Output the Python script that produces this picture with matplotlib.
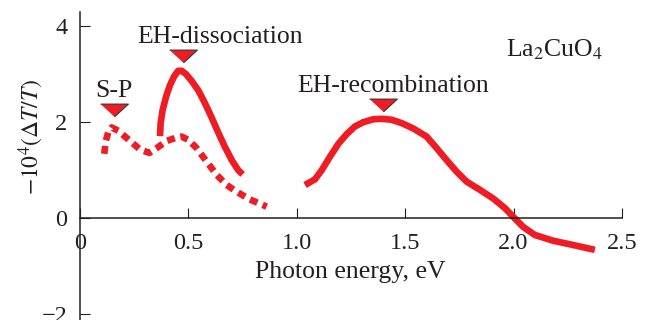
"""Photoinduced absorption spectrum of La2CuO4."""

import matplotlib
matplotlib.use("Agg")
import matplotlib.pyplot as plt

# EH-dissociation (solid)
diss_x = [0.369, 0.372, 0.381, 0.397, 0.415, 0.435, 0.453, 0.469, 0.489, 0.515,
          0.546, 0.577, 0.607, 0.638, 0.669, 0.700, 0.730, 0.750]
diss_y = [1.70, 1.97, 2.24, 2.52, 2.76, 2.95, 3.06, 3.06, 2.99, 2.85,
          2.65, 2.38, 2.09, 1.77, 1.47, 1.20, 0.99, 0.90]

# dotted curve
dot_x = [0.112, 0.118, 0.131, 0.146, 0.177, 0.223, 0.277, 0.320, 0.354, 0.400,
         0.446, 0.469, 0.500, 0.538, 0.584, 0.631, 0.677, 0.723, 0.784, 0.861]
dot_y = [1.33, 1.58, 1.79, 1.88, 1.81, 1.63, 1.42, 1.35, 1.45, 1.60,
         1.67, 1.69, 1.62, 1.45, 1.17, 0.89, 0.68, 0.54, 0.38, 0.23]

# EH-recombination (solid)
rec_x = [1.038, 1.084, 1.115, 1.153, 1.192, 1.230, 1.268, 1.307, 1.353, 1.392,
         1.438, 1.484, 1.537, 1.599, 1.645, 1.691, 1.737, 1.784, 1.845, 1.906,
         1.960, 1.998, 2.044, 2.098, 2.183, 2.276, 2.375]
rec_y = [0.68, 0.80, 0.99, 1.27, 1.54, 1.74, 1.90, 1.99, 2.05, 2.06,
         2.04, 1.97, 1.86, 1.69, 1.45, 1.20, 0.96, 0.75, 0.58, 0.40,
         0.20, 0.02, -0.19, -0.36, -0.48, -0.57, -0.67]

# arrow markers and labels
mark_x = [0.157, 0.473, 1.40]
mark_y = [2.24, 3.36, 2.35]
mark_labels = ["S-P", "EH-dissociation", "EH-recombination"]

x_ticks = [0, 0.5, 1.0, 1.5, 2.0, 2.5]
x_tick_labels = ["0", "0.5", "1.0", "1.5", "2.0", "2.5"]
y_ticks = [-2, 0, 2, 4]
y_tick_labels = ["\u22122", "0", "2", "4"]

RED = "#ee1d25"
INK = "#231f20"

plt.rcParams["font.family"] = ["Liberation Serif", "DejaVu Serif"]
plt.rcParams["mathtext.fontset"] = "stix"

fig = plt.figure(figsize=(6.51, 3.20), dpi=100)
ax = fig.add_axes([80 / 651, 0, 571 / 651, 1])
ax.set_xlim(0, 2.634)
ax.set_ylim(-2.131, 4.535)

ax.plot(diss_x, diss_y, color=RED, lw=4.8, solid_capstyle="butt", solid_joinstyle="round")
ax.plot(rec_x, rec_y, color=RED, lw=4.8, solid_capstyle="butt", solid_joinstyle="round")
ax.plot(dot_x, dot_y, color=RED, lw=4.8, dashes=(1.2, 0.85), dash_capstyle="butt")

tri = [(-1, 0.46), (1, 0.46), (0, -0.46)]
ax.plot(mark_x, mark_y, linestyle="none", marker=tri, markersize=20,
        markerfacecolor=RED, markeredgecolor="#333333", markeredgewidth=0.8)

# labels sit above the markers, not always centred on them
label_x = [0.157, 0.646, 1.444]
for lx, my, lab in zip(label_x, mark_y, mark_labels):
    ax.text(lx, my + 0.27, lab, ha="center", va="baseline", fontsize=18.5, color=INK)

ax.text(2.19, 3.35, r"La$_2$CuO$_4$", ha="center", va="baseline", fontsize=18.5, color=INK)

for side in ["top", "right"]:
    ax.spines[side].set_visible(False)
ax.spines["bottom"].set_position(("data", 0))
ax.spines["bottom"].set_bounds(0, 2.5)
ax.spines["left"].set_bounds(-2.131, 4.285)
for side in ["bottom", "left"]:
    ax.spines[side].set_linewidth(1.1)
    ax.spines[side].set_color(INK)

ax.set_xticks(x_ticks)
ax.set_xticklabels(x_tick_labels)
ax.set_yticks(y_ticks)
ax.set_yticklabels(y_tick_labels)
ax.tick_params(direction="in", length=7, width=0.8, colors=INK, labelsize=17.5)
ax.tick_params(axis="x", pad=11)
ax.tick_params(axis="y", pad=9)
zero = ax.get_xticklabels()[0]
zero.set_bbox(dict(facecolor="white", edgecolor="none", pad=5))

ax.text(1.245, -1.256, "Photon energy, eV", ha="center", va="baseline", fontsize=18.5, color=INK)
fig.text(31 / 651, 1 - 137 / 320, r"$-10^4(\Delta T/T)$", rotation=90,
         ha="center", va="center", fontsize=17, color=INK)

fig.savefig("out.png", dpi=100)
